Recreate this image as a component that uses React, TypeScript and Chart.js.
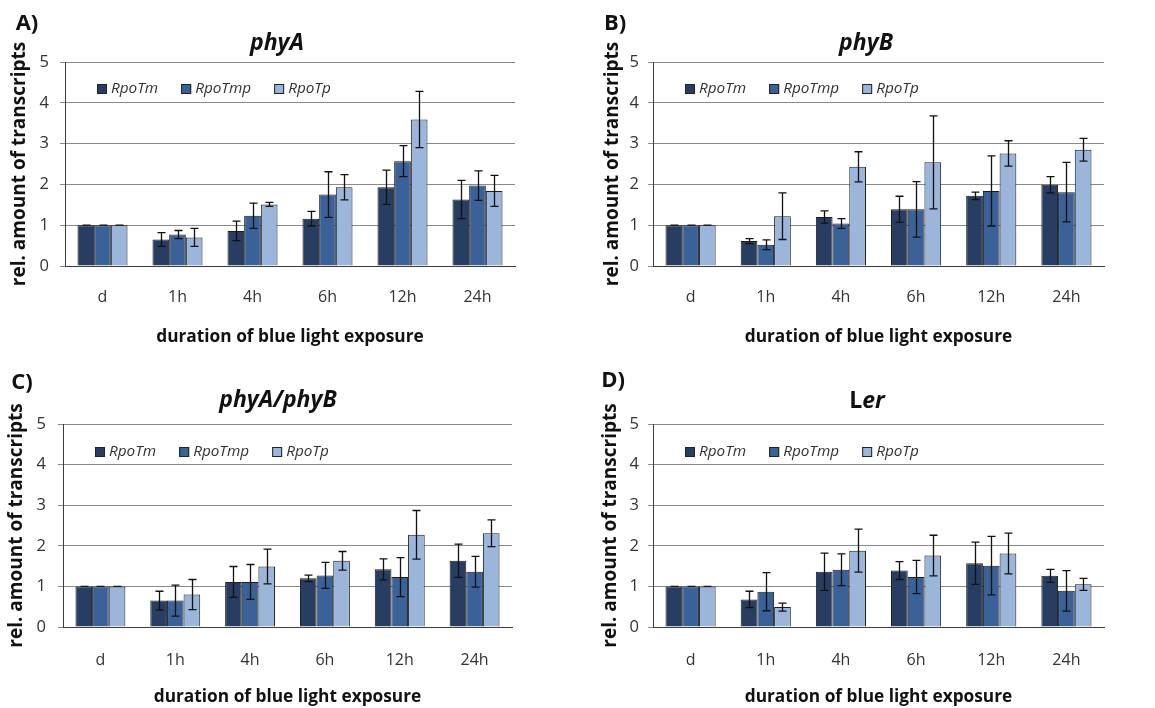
import React, { useEffect, useRef } from "react";
import { Chart, registerables } from "chart.js";

Chart.register(...registerables);

// ---------- data ----------
const categories = ["d", "1h", "4h", "6h", "12h", "24h"];
const seriesNames = ["RpoTm", "RpoTmp", "RpoTp"];
const yTickMax = 5;
const yTickStep = 1;

// panel A: phyA
const phyA_RpoTm = [1, 0.65, 0.86, 1.16, 1.93, 1.63];
const phyA_RpoTm_err = [0, 0.17, 0.24, 0.18, 0.42, 0.47];
const phyA_RpoTmp = [1, 0.77, 1.23, 1.75, 2.57, 1.97];
const phyA_RpoTmp_err = [0, 0.1, 0.31, 0.56, 0.38, 0.36];
const phyA_RpoTp = [1, 0.7, 1.51, 1.93, 3.59, 1.84];
const phyA_RpoTp_err = [0, 0.22, 0.05, 0.31, 0.69, 0.38];

// panel B: phyB
const phyB_RpoTm = [1, 0.61, 1.2, 1.39, 1.72, 1.99];
const phyB_RpoTm_err = [0, 0.06, 0.15, 0.32, 0.09, 0.2];
const phyB_RpoTmp = [1, 0.52, 1.04, 1.39, 1.84, 1.81];
const phyB_RpoTmp_err = [0, 0.12, 0.12, 0.68, 0.86, 0.73];
const phyB_RpoTp = [1, 1.22, 2.43, 2.54, 2.76, 2.85];
const phyB_RpoTp_err = [0, 0.57, 0.37, 1.14, 0.31, 0.28];

// panel C: phyA/phyB
const phyAB_RpoTm = [1, 0.65, 1.11, 1.2, 1.42, 1.63];
const phyAB_RpoTm_err = [0, 0.23, 0.38, 0.08, 0.26, 0.41];
const phyAB_RpoTmp = [1, 0.65, 1.11, 1.27, 1.23, 1.36];
const phyAB_RpoTmp_err = [0, 0.38, 0.43, 0.32, 0.48, 0.38];
const phyAB_RpoTp = [1, 0.8, 1.49, 1.63, 2.27, 2.31];
const phyAB_RpoTp_err = [0, 0.37, 0.43, 0.23, 0.6, 0.33];

// panel D: Ler
const Ler_RpoTm = [1, 0.68, 1.36, 1.39, 1.57, 1.26];
const Ler_RpoTm_err = [0, 0.2, 0.46, 0.22, 0.52, 0.16];
const Ler_RpoTmp = [1, 0.87, 1.41, 1.23, 1.51, 0.89];
const Ler_RpoTmp_err = [0, 0.47, 0.39, 0.41, 0.72, 0.5];
const Ler_RpoTp = [1, 0.49, 1.88, 1.76, 1.81, 1.05];
const Ler_RpoTp_err = [0, 0.1, 0.53, 0.5, 0.5, 0.15];

const yAxisTitle = "rel. amount of transcripts";
const xAxisTitle = "duration of blue light exposure";

// ---------- styles ----------
const COLORS = ["#283d62", "#3a6198", "#9cb5da"];
const FONT = "'Open Sans', 'DejaVu Sans', sans-serif";
const GRID = "#8a8a8a";
const AXIS = "#3c3c3c";
const TICK_TEXT = "#333333";
const X_TICK_SIZE = 16;
const Y_TICK_SIZE = 16.5;
const X_TITLE_SIZE = 17.3;
const Y_TITLE_SIZE = 19;

type TitlePart = { text: string; italic: boolean };

type PanelCfg = {
  letter: string;
  title: TitlePart[];
  values: number[][];
  errors: number[][];
  canvas: { left: number; top: number; w: number; h: number };
  area: { l: number; r: number; t: number; b: number };
  yTitleX: number;
  yTickPad: number;
  xLabelY: number;
  xTitleY: number;
  letterPos: [number, number];
  titlePos: [number, number];
  legendY: number;
};

const panels: PanelCfg[] = [
  {
    letter: "A)",
    title: [{ text: "phyA", italic: true }],
    values: [phyA_RpoTm, phyA_RpoTmp, phyA_RpoTp],
    errors: [phyA_RpoTm_err, phyA_RpoTmp_err, phyA_RpoTp_err],
    canvas: { left: 0, top: 0, w: 578, h: 354 },
    area: { l: 65, r: 515, t: 62, b: 266 },
    yTitleX: 20,
    yTickPad: 11,
    xLabelY: 297,
    xTitleY: 337,
    letterPos: [27, 24],
    titlePos: [277, 43],
    legendY: 89,
  },
  {
    letter: "B)",
    title: [{ text: "phyB", italic: true }],
    values: [phyB_RpoTm, phyB_RpoTmp, phyB_RpoTp],
    errors: [phyB_RpoTm_err, phyB_RpoTmp_err, phyB_RpoTp_err],
    canvas: { left: 578, top: 0, w: 577, h: 354 },
    area: { l: 75, r: 526, t: 62, b: 266 },
    yTitleX: 35,
    yTickPad: 9,
    xLabelY: 297,
    xTitleY: 337,
    letterPos: [37, 24],
    titlePos: [288, 43],
    legendY: 89,
  },
  {
    letter: "C)",
    title: [{ text: "phyA/phyB", italic: true }],
    values: [phyAB_RpoTm, phyAB_RpoTmp, phyAB_RpoTp],
    errors: [phyAB_RpoTm_err, phyAB_RpoTmp_err, phyAB_RpoTp_err],
    canvas: { left: 0, top: 354, w: 578, h: 354 },
    area: { l: 63, r: 512, t: 70, b: 273 },
    yTitleX: 17,
    yTickPad: 12,
    xLabelY: 306,
    xTitleY: 343,
    letterPos: [22, 29],
    titlePos: [278, 46],
    legendY: 98,
  },
  {
    letter: "D)",
    title: [
      { text: "L", italic: false },
      { text: "er", italic: true },
    ],
    values: [Ler_RpoTm, Ler_RpoTmp, Ler_RpoTp],
    errors: [Ler_RpoTm_err, Ler_RpoTmp_err, Ler_RpoTp_err],
    canvas: { left: 578, top: 354, w: 577, h: 354 },
    area: { l: 75, r: 526, t: 70, b: 273 },
    yTitleX: 33,
    yTickPad: 9,
    xLabelY: 306,
    xTitleY: 343,
    letterPos: [35, 27],
    titlePos: [289, 47],
    legendY: 98,
  },
];

function makePanelPlugin(cfg: PanelCfg) {
  return {
    id: "panelDecor",
    afterDatasetsDraw(chart: any) {
      const ctx = chart.ctx as CanvasRenderingContext2D;
      const yScale = chart.scales.y;
      // error bars
      ctx.save();
      ctx.strokeStyle = "#111";
      ctx.lineWidth = 1.3;
      chart.data.datasets.forEach((ds: any, i: number) => {
        const meta = chart.getDatasetMeta(i);
        meta.data.forEach((el: any, j: number) => {
          const v = ds.data[j];
          const e = ds.errors[j];
          const x = Math.round(el.x) + 0.5;
          const yT = yScale.getPixelForValue(v + e);
          const yB = yScale.getPixelForValue(v - e);
          ctx.beginPath();
          ctx.moveTo(x, yT);
          ctx.lineTo(x, yB);
          ctx.moveTo(x - 4, yT);
          ctx.lineTo(x + 4, yT);
          ctx.moveTo(x - 4, yB);
          ctx.lineTo(x + 4, yB);
          ctx.stroke();
        });
      });
      ctx.restore();
    },
    afterDraw(chart: any) {
      const ctx = chart.ctx as CanvasRenderingContext2D;
      const area = chart.chartArea;
      ctx.save();
      // panel letter
      ctx.fillStyle = "#111";
      ctx.font = `bold 22px ${FONT}`;
      ctx.textAlign = "center";
      ctx.textBaseline = "middle";
      ctx.fillText(cfg.letter, cfg.letterPos[0], cfg.letterPos[1]);
      // title
      const fontFor = (p: TitlePart) =>
        `${p.italic ? "italic " : ""}bold 23px ${FONT}`;
      let total = 0;
      cfg.title.forEach((p) => {
        ctx.font = fontFor(p);
        total += ctx.measureText(p.text).width;
      });
      let tx = cfg.titlePos[0] - total / 2;
      ctx.textAlign = "left";
      cfg.title.forEach((p) => {
        ctx.font = fontFor(p);
        ctx.fillText(p.text, tx, cfg.titlePos[1]);
        tx += ctx.measureText(p.text).width;
      });
      // legend
      let lx = area.left + 32;
      const ly = cfg.legendY;
      ctx.font = `italic 15.3px ${FONT}`;
      seriesNames.forEach((name, i) => {
        ctx.fillStyle = COLORS[i];
        ctx.fillRect(lx, ly - 5, 10, 10);
        ctx.strokeStyle = "#222";
        ctx.lineWidth = 1;
        ctx.strokeRect(lx + 0.5, ly - 4.5, 9, 9);
        ctx.fillStyle = TICK_TEXT;
        ctx.textBaseline = "middle";
        ctx.fillText(name, lx + 14, ly);
        lx += 14 + ctx.measureText(name).width + 23;
      });
      ctx.restore();
    },
  };
}

function Panel({ cfg }: { cfg: PanelCfg }) {
  const ref = useRef<HTMLCanvasElement | null>(null);
  useEffect(() => {
    if (!ref.current) return;
    const { w, h } = cfg.canvas;
    const { l, r, t, b } = cfg.area;
    const xLabelPad = cfg.xLabelY - b - (X_TICK_SIZE * 1.2) / 2;
    const xTitlePadBottom = Math.max(0, h - cfg.xTitleY - (X_TITLE_SIZE * 1.2) / 2);
    const yTitlePadTop = cfg.yTitleX - (Y_TITLE_SIZE * 1.2) / 2;
    const chart = new Chart(ref.current, {
      type: "bar",
      data: {
        labels: categories,
        datasets: seriesNames.map((name, i) => ({
          label: name,
          data: cfg.values[i],
          errors: cfg.errors[i],
          backgroundColor: COLORS[i],
          borderColor: "#1c1c1c",
          borderWidth: 1,
          categoryPercentage: 0.667,
          barPercentage: 1.0,
        })) as any,
      },
      options: {
        responsive: false,
        maintainAspectRatio: false,
        devicePixelRatio: 1,
        animation: false,
        events: [],
        layout: { padding: { left: 0, top: t, right: w - r, bottom: 0 } },
        plugins: {
          legend: { display: false },
          title: { display: false },
          tooltip: { enabled: false },
        },
        scales: {
          x: {
            afterFit: (s: any) => {
              s.height = h - b;
            },
            grid: { display: false, drawTicks: false },
            border: { display: true, color: AXIS, width: 1 },
            ticks: {
              color: TICK_TEXT,
              font: { family: FONT, size: X_TICK_SIZE },
              padding: xLabelPad,
            },
            title: {
              display: true,
              text: xAxisTitle,
              color: "#111",
              font: { family: FONT, size: X_TITLE_SIZE, weight: "bold" },
              padding: { top: 0, bottom: xTitlePadBottom },
            },
          },
          y: {
            min: 0,
            max: yTickMax,
            afterFit: (s: any) => {
              s.width = l;
            },
            grid: {
              color: GRID,
              lineWidth: 1,
              drawTicks: true,
              tickLength: 5,
            },
            border: { display: true, color: AXIS, width: 1 },
            ticks: {
              stepSize: yTickStep,
              color: TICK_TEXT,
              font: { family: FONT, size: Y_TICK_SIZE },
              padding: cfg.yTickPad,
            },
            title: {
              display: true,
              text: yAxisTitle,
              color: "#111",
              font: { family: FONT, size: Y_TITLE_SIZE, weight: "bold" },
              padding: { top: yTitlePadTop, bottom: 0 },
            },
          },
        },
      },
      plugins: [makePanelPlugin(cfg)],
    } as any);
    return () => chart.destroy();
  }, [cfg]);
  return (
    <canvas
      ref={ref}
      width={cfg.canvas.w}
      height={cfg.canvas.h}
      style={{
        position: "absolute",
        left: cfg.canvas.left,
        top: cfg.canvas.top,
        width: cfg.canvas.w,
        height: cfg.canvas.h,
      }}
    />
  );
}

export default function App() {
  return (
    <div
      style={{
        position: "absolute",
        left: 0,
        top: 0,
        width: 1155,
        height: 708,
        overflow: "hidden",
        background: "#ffffff",
      }}
    >
      {panels.map((p) => (
        <Panel key={p.letter} cfg={p} />
      ))}
    </div>
  );
}
